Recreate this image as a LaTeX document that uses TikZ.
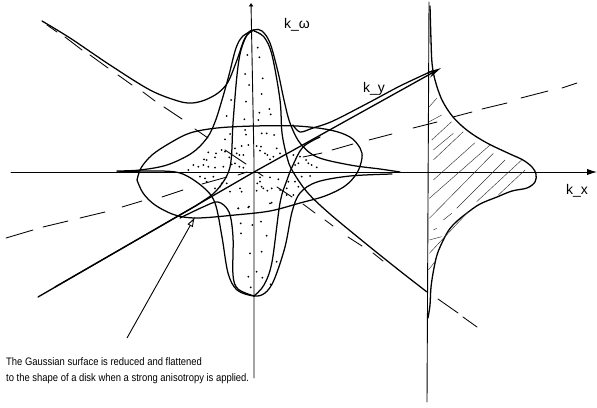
\documentclass[tikz,border=0pt]{standalone}
\usepackage{fontspec}
\setmainfont{Liberation Sans}
\newfontfamily\captionfont[FakeStretch=0.87]{Liberation Sans}
\usetikzlibrary{arrows.meta}
\tikzset{
	outline/.style={line width=1.25pt, smooth, tension=0.55, line cap=round, line join=round},
	axisline/.style={line width=0.9pt, line cap=round},
	dashline/.style={line width=0.85pt, line cap=round},
	hatchline/.style={line width=0.45pt, black!80},
	axislabel/.style={inner sep=0pt, font=\fontsize{14}{16}\selectfont},
	captiontext/.style={inner sep=0pt, anchor=base west, font=\captionfont\fontsize{10.85}{12}\selectfont}
}
\begin{document}
\begin{tikzpicture}[x=1pt, y=-1pt]
	\useasboundingbox (0,0) rectangle (597,407);
	
	% axes
	\draw[axisline, -{Latex[length=3.5mm,width=2.2mm]}] (11,172) -- (597,172);
	\draw[axisline, -{Latex[length=1.2mm,width=1.8mm]}] (254,378) -- (254,160) -- (251,3);
	\draw[axisline, line width=1.3pt, -{Stealth[length=5mm,width=2.2mm]}] (38,297) -- (254,172) -- (441,68);
	\draw[axisline] (429,2) -- (427,402);
	
	% dashed asymptotes
	\foreach \ax/\ay/\bx/\by in {6/238/33/230, 43/227/68/221, 80/218/105/212, 122/207/142/201, 162/197/183/190, 202/184/227/177, 238/175/247/172, 303/157/322/153, 332/150/353/144, 369/140/392/134, 413/128/437/122, 453/117/472/112, 482/109/507/103, 521/98/548/91, 562/88/577/83,
		47/25/57/32, 65/37/82/50, 90/55/108/68, 118/75/132/85, 143/92/155/101, 164/107/182/119, 195/129/208/138, 225/150/246/164, 257/172/263/176, 277/187/292/197, 303/204/315/213, 325/220/333/226, 348/237/362/246, 373/253/383/261, 438/299/458/313, 463/317/477/327}
		\draw[dashline] (\ax,\ay) -- (\bx,\by);
	
	% disk
	\draw[outline] plot coordinates {(137,180) (141,168) (152,155) (170,143) (190,133) (217,128) (254,126) (297,126) (330,130) (350,137) (360,148) (362,158) (357,173) (345,186) (325,196) (300,203) (270,211) (235,215) (197,218) (175,215) (155,205) (143,193) (137,180)};
	
	% gaussian surface, vertical and horizontal outlines
	\draw[outline] plot coordinates {(42,21) (70,38) (110,65) (150,90) (178,101) (192,103) (205,100) (218,93) (228,82) (237,60) (245,38) (254,30) (262,31) (270,43) (278,72) (284,100) (290,123) (300,143) (317,157) (350,165) (380,169) (400,172)};
	\draw[outline] plot coordinates {(254,30) (243,36) (236,48) (229,75) (222,100) (215,122) (207,138) (192,153) (167,165) (140,170) (117,171)};
	\draw[outline] plot coordinates {(254,30) (248,33) (241,50) (237,75) (233,123) (230,167) (217,190) (200,203) (180,215) (55,287)};
	\draw[outline] plot coordinates {(254,31) (264,37) (272,55) (280,100) (282,133) (287,157) (292,170) (307,192) (330,214) (370,247) (400,271) (427,292)};
	\draw[outline] plot coordinates {(117,172) (150,171) (180,173) (203,187) (215,203) (222,237) (228,273) (237,290) (254,296) (265,293) (274,280) (285,247) (292,212) (300,193) (317,182) (350,176) (392,174)};
	\draw[outline] plot coordinates {(254,296) (238,289) (233,275) (233,237) (229,212) (218,202) (203,207) (180,218)};
	\draw[outline] plot coordinates {(254,296) (264,285) (272,262) (280,203) (287,180) (293,165) (303,147) (320,137)};
	\draw[outline] plot coordinates {(293,125) (300,132) (313,128) (333,121) (370,102) (400,86) (432,71)};
	
	% projection on the k_x plane
	\draw[outline, line width=1.3pt] plot coordinates {(430,6) (431,40) (432,63) (435,80) (442,100) (453,117) (468,131) (487,143) (510,154) (523,160) (532,167) (536,174) (535,182) (527,188) (512,191) (497,197) (480,204) (467,213) (455,223) (447,233) (438,252) (434,268) (431,287) (430,305) (428,318)};
	\foreach \ax/\ay/\bx/\by in {118/320/140/295, 118/365/155/345, 125/420/185/365, 130/450/190/400, 130/480/220/395, 130/540/255/428, 118/595/300/435, 118/655/310/460, 200/625/345/480, 260/605/395/480, 325/585/405/510, 118/760/235/635, 118/720/155/710, 130/690/140/685, 160/660/185/640, 115/810/135/785}
		\draw[hatchline] ({390+\ax/3},{\ay/3}) -- ({390+\bx/3},{\by/3});
	
	% stippling
	\foreach \px/\py in {135/58, 150/42, 195/30, 198/44, 185/78, 165/85, 170/100, 190/105, 178/105, 205/75, 230/78, 243/80, 240/92, 260/40, 245/40, 282/45, 255/100, 262/105, 290/85, 300/100, 280/110, 270/118, 85/97, 108/100, 72/118, 80/120, 105/112, 125/90, 135/95, 148/112, 155/133, 130/140, 105/143, 85/140, 70/135, 55/140, 40/135, 25/150, 190/143, 178/140, 165/130, 345/135, 355/130, 360/110, 378/120, 385/130, 395/135, 410/142, 365/170, 390/168, 345/185, 355/200, 320/205, 325/185, 340/105, 60/170, 75/175, 100/170, 80/185, 125/190, 120/200, 105/205, 140/190, 150/215, 180/205, 185/215, 175/265, 205/262, 240/172, 240/185, 232/190, 230/212, 250/205, 245/200, 262/212, 275/205, 270/250, 270/172, 295/178, 340/225, 320/225, 300/210}
		\fill ({180+\px/3},{120+\py/3}) circle (1);
	\foreach \px/\py in {128/68, 133/97, 97/90, 90/147, 143/160, 102/180, 140/207, 93/230, 48/225, 35/273, 163/252, 167/268, 133/263, 130/285, 88/283}
		\fill ({215+\px/3},{25+\py/3}) circle (1);
	\foreach \px/\py in {422/160, 483/155, 457/165, 423/190, 500/197, 450/250, 485/245, 530/275, 470/305, 445/320, 487/323, 452/352, 512/343, 415/115, 447/110, 515/98}
		\fill ({100+\px/3},{170+\py/3}) circle (1);
	
	% labels
	\node[axislabel] (komega) at (297,25) {k\_ω};
	\node[axislabel] (ky) at (374,89) {k\_y};
	\node[axislabel] (kx) at (577,191) {k\_x};
	
	\node[captiontext] (caption1) at (6,365) {The Gaussian surface is reduced and flattened};
	\node[captiontext] (caption2) at (6,381) {to the shape of a disk when a strong anisotropy is applied.};
	\coordinate (captiontail) at (127,338);
	\coordinate (disktip) at (195,217);
	\draw[line width=0.9pt, -{Latex[length=3.5mm,width=2.2mm,open]}] (captiontail) -- (disktip);
\end{tikzpicture}
\end{document}
